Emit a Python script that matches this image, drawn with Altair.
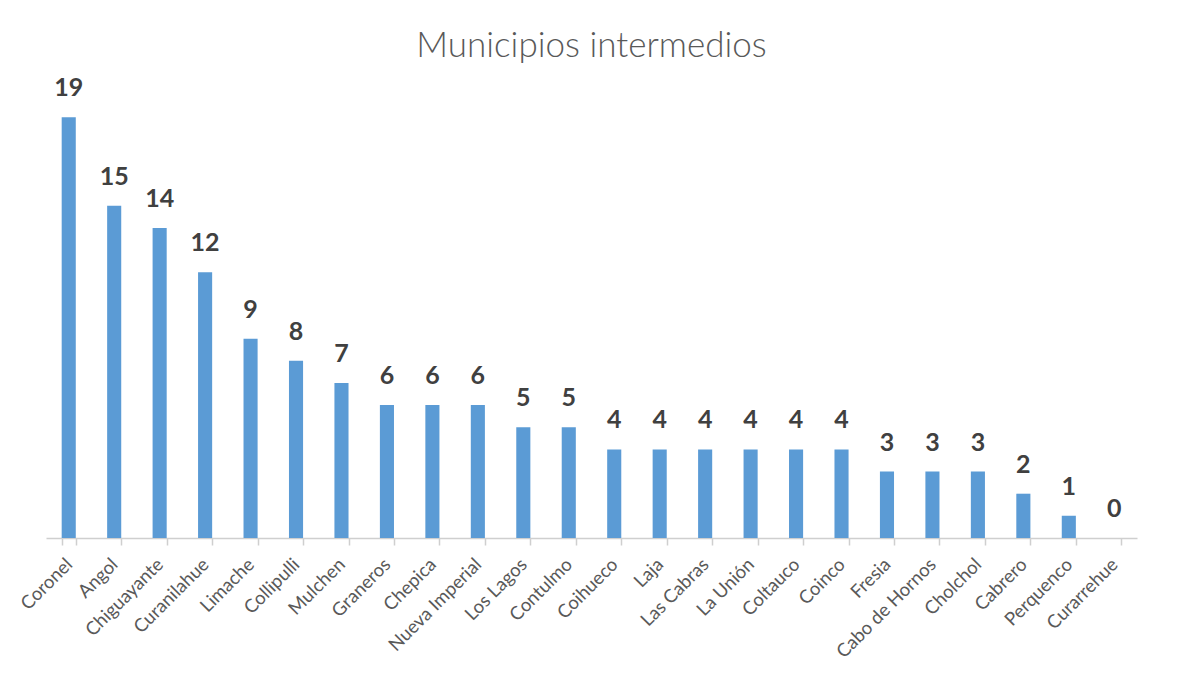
import altair as alt
import pandas as pd

municipios = ["Coronel", "Angol", "Chiguayante", "Curanilahue", "Limache", "Collipulli",
              "Mulchen", "Graneros", "Chepica", "Nueva Imperial", "Los Lagos", "Contulmo",
              "Coihueco", "Laja", "Las Cabras", "La Unión", "Coltauco", "Coinco", "Fresia",
              "Cabo de Hornos", "Cholchol", "Cabrero", "Perquenco", "Curarrehue"]
valores = [19, 15, 14, 12, 9, 8, 7, 6, 6, 6, 5, 5, 4, 4, 4, 4, 4, 4, 3, 3, 3, 2, 1, 0]

df = pd.DataFrame({"municipio": municipios, "valor": valores})

x = alt.X("municipio:N", sort=municipios,
          scale=alt.Scale(paddingInner=0.69, paddingOuter=0.345),
          axis=alt.Axis(title=None, labelAngle=-45, labelAlign="right", labelBaseline="middle",
                        labelFont="Lato", labelFontSize=18.5, labelColor="#595959",
                        labelPadding=16, tickBand="extent", tickColor="#cfcfcf", tickSize=7,
                        tickWidth=1.5, domainColor="#cfcfcf", domainWidth=1.5,
                        labelOverlap=False))
y = alt.Y("valor:Q", scale=alt.Scale(domain=[0, 20], nice=False), axis=None)

bars = alt.Chart(df).mark_bar(color="#5B9BD5").encode(x=x, y=y)
labels = alt.Chart(df).mark_text(font="Lato", fontWeight="bold", fontSize=25, color="#404040",
                                 baseline="bottom", dy=-16).encode(x=x, y=y, text="valor:Q")

chart = (bars + labels).properties(
    width=1091, height=443,
    title=alt.TitleParams("Municipios intermedios", font="Lato", fontSize=35, fontWeight=300,
                          color="#595959", anchor="middle", offset=12),
    autosize=alt.AutoSizeParams(type="none"),
    padding={"left": 38, "top": 87, "right": 30, "bottom": 140},
    background="white",
).configure_view(stroke=None)

chart.save("out.html", embed_options={"renderer": "svg", "actions": False})
